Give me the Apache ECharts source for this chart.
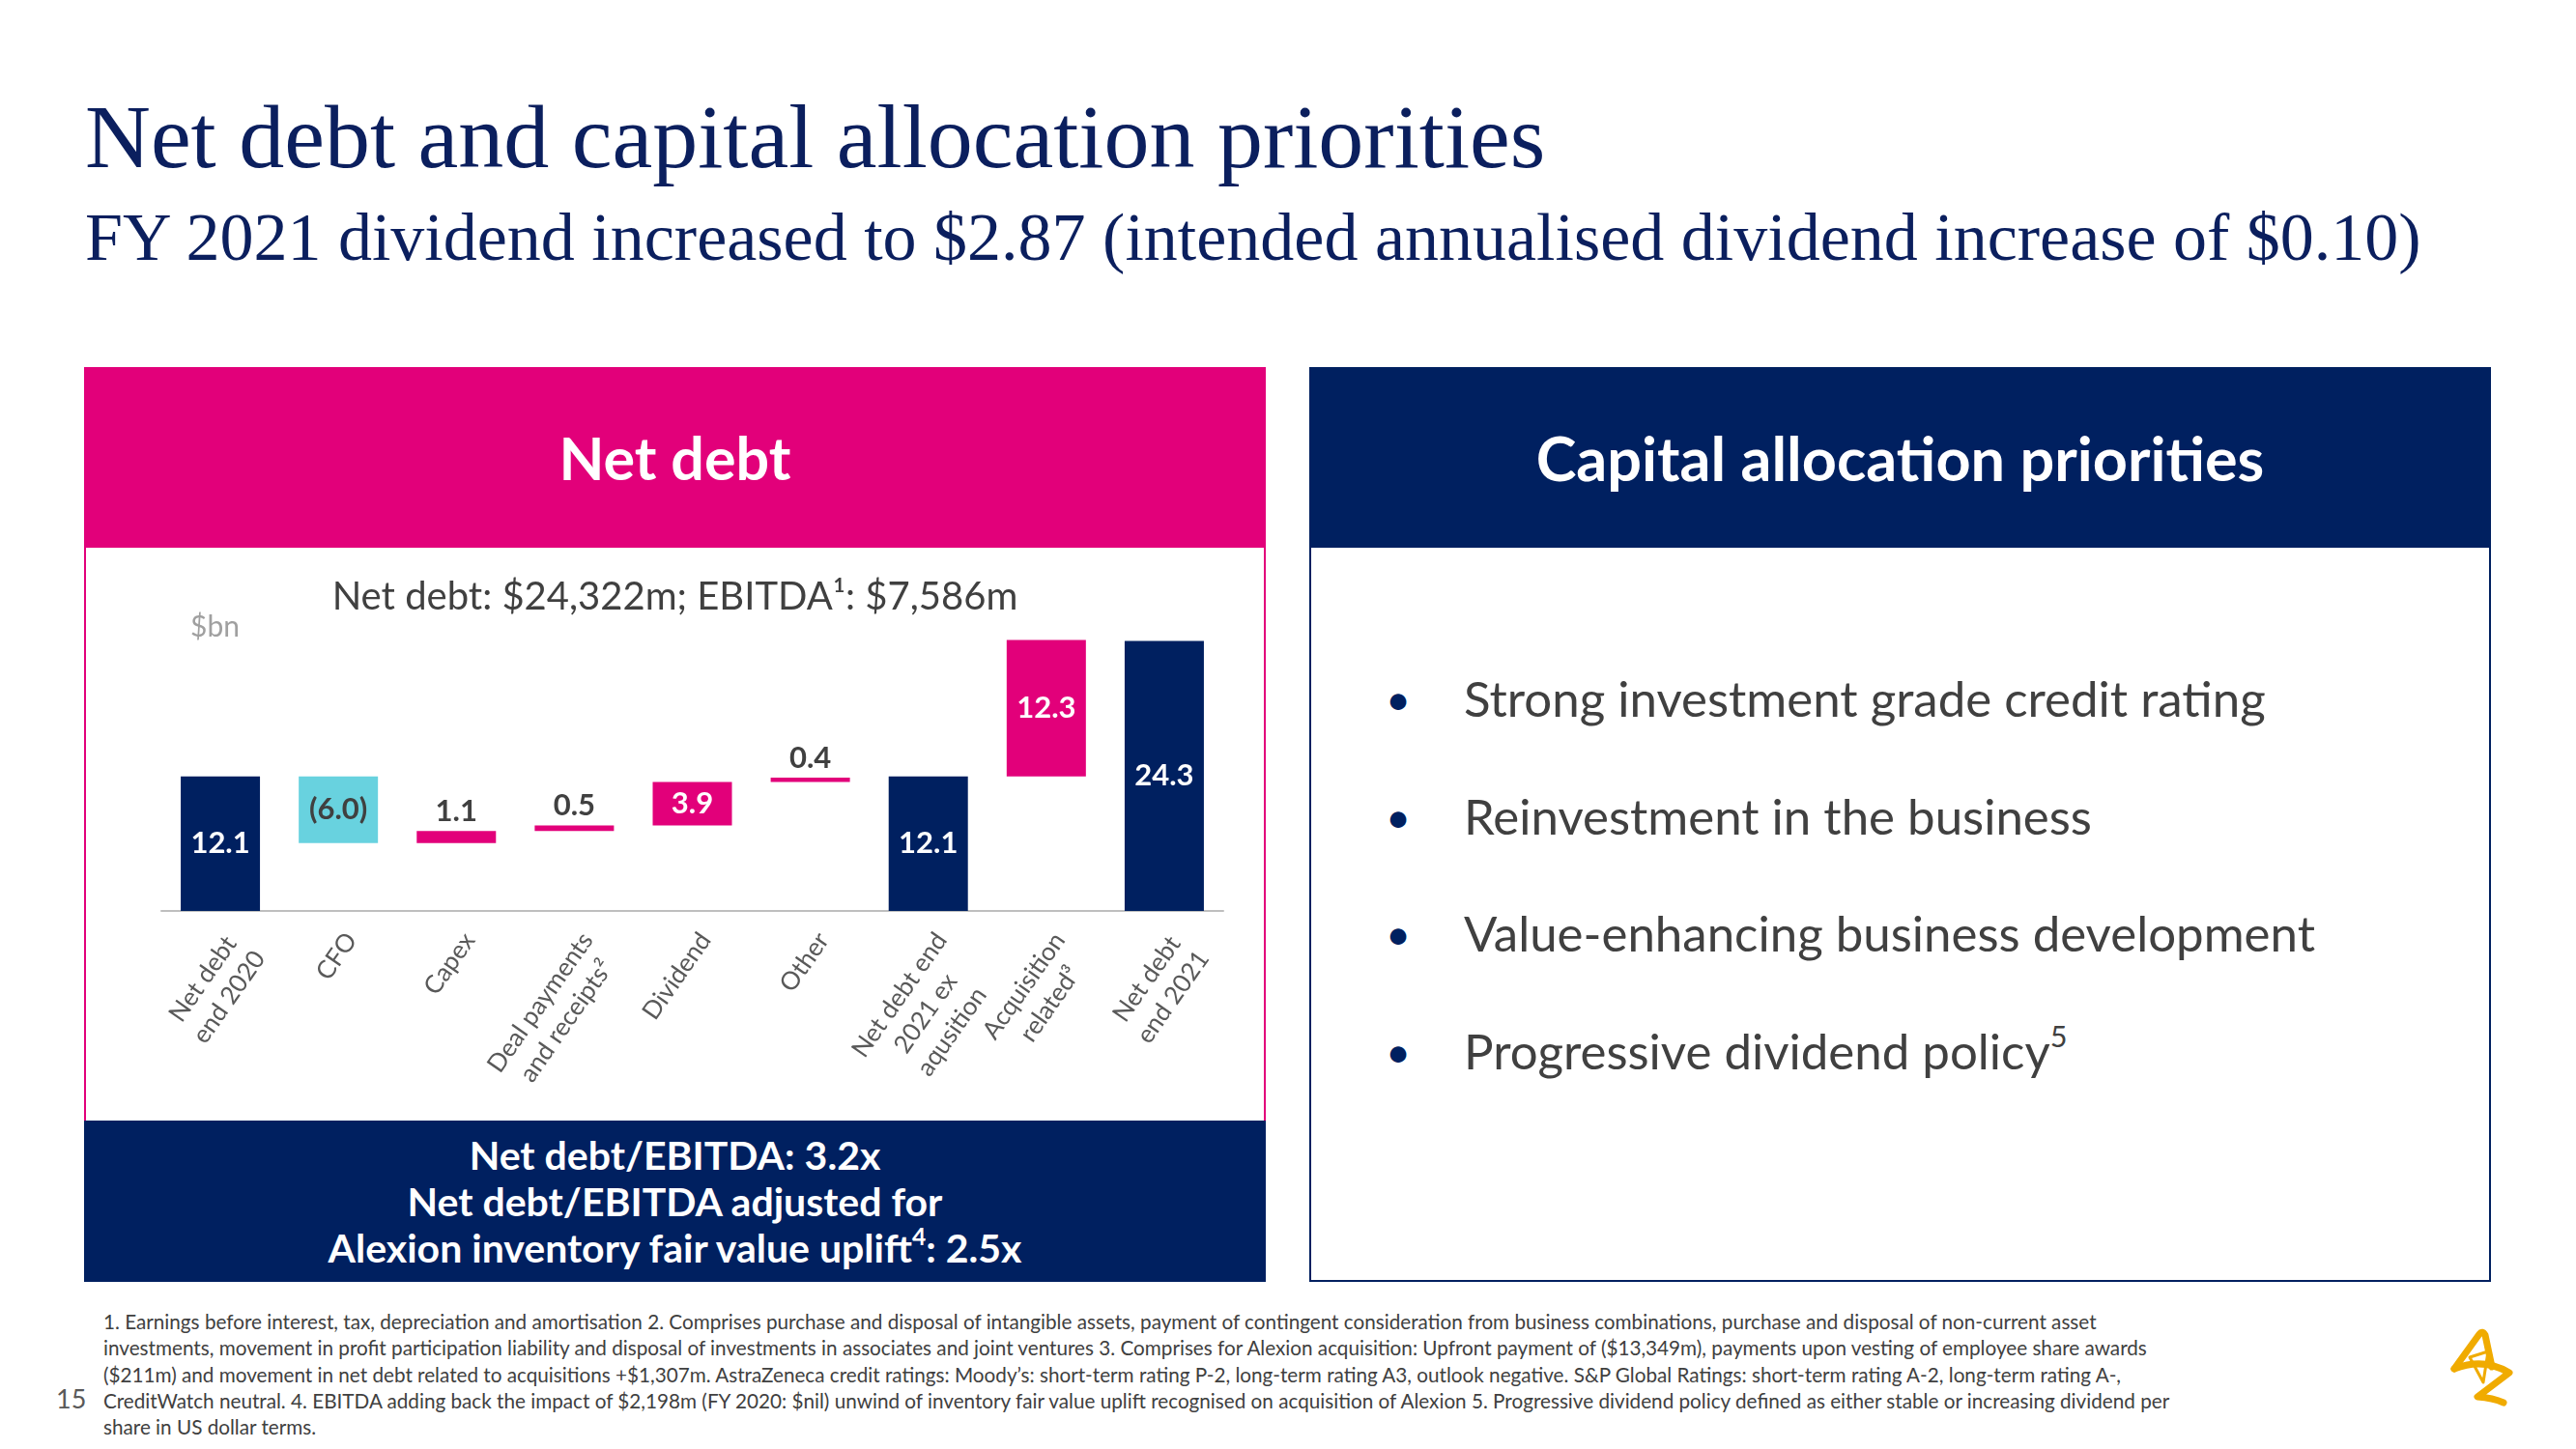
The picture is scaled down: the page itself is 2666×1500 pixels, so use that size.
<!DOCTYPE html>
<html>
<head>
<meta charset="utf-8">
<script src="https://cdn.jsdelivr.net/npm/echarts@6/dist/echarts.min.js"></script>
<style>
  html, body { margin:0; padding:0; background:#ffffff; }
  body { width:2666px; height:1500px; position:relative; overflow:hidden; font-family: Lato, "Noto Sans", sans-serif; }
  .abs { position:absolute; }
  #title { left:88px; top:94px; font-family:"Liberation Serif", "DejaVu Serif", serif; font-size:94px; line-height:94px; color:#0b1f5e; white-space:nowrap; }
  #subtitle { left:88px; top:211px; font-family:"Liberation Serif", "DejaVu Serif", serif; font-size:70px; line-height:70px; color:#0b1f5e; white-space:nowrap; }
  .head { display:flex; align-items:center; justify-content:center; color:#fff; font-weight:700; }
  #leftHead { left:87px; top:380px; width:1223px; height:187px; background:#E2007A; font-size:61px; }
  #leftBody { left:87px; top:567px; width:1223px; height:593px; box-sizing:border-box; border-left:2px solid #E2007A; border-right:2px solid #E2007A; }
  #chart { left:87px; top:567px; width:1223px; height:593px; }
  #leftFoot { left:87px; top:1160px; width:1223px; height:167px; background:#002060; color:#fff; font-weight:700; font-size:41px; line-height:48px; text-align:center; display:flex; align-items:center; justify-content:center; }
  #rightHead { left:1355px; top:380px; width:1223px; height:187px; background:#002060; font-size:63px; }
  #rightBody { left:1355px; top:567px; width:1223px; height:760px; box-sizing:border-box; border:2px solid #002060; border-top:none; }
  .bullet { left:1430px; height:60px; line-height:60px; font-size:51px; color:#404040; white-space:nowrap; }
  .bullet .dot { position:absolute; left:0; top:0; width:34px; text-align:center; color:#002060; font-size:45px; }
  .bullet .txt { position:absolute; left:85px; top:0; }
  sup { font-size:0.6em; line-height:0; vertical-align:0.75em; }
  #foot { left:107px; top:1355px; font-size:20.7px; line-height:27.3px; color:#404040; white-space:nowrap; }
  #pnum { left:58px; top:1433px; font-size:27px; line-height:30px; color:#595959; }
  #logo { left:2534px; top:1375px; }
</style>
</head>
<body>
<div id="title" class="abs">Net debt and capital allocation priorities</div>
<div id="subtitle" class="abs">FY 2021 dividend increased to $2.87 (intended annualised dividend increase of $0.10)</div>

<div id="leftHead" class="abs head">Net debt</div>
<div id="leftBody" class="abs"></div>
<div id="chart" class="abs"></div>
<div id="leftFoot" class="abs"><div>Net debt/EBITDA: 3.2x<br>Net debt/EBITDA adjusted for<br>Alexion inventory fair value uplift<sup>4</sup>: 2.5x</div></div>

<div id="rightHead" class="abs head">Capital allocation priorities</div>
<div id="rightBody" class="abs"></div>
<div class="abs bullet" style="top:693px"><span class="dot">•</span><span class="txt">Strong investment grade credit rating</span></div>
<div class="abs bullet" style="top:815px"><span class="dot">•</span><span class="txt">Reinvestment in the business</span></div>
<div class="abs bullet" style="top:936px"><span class="dot">•</span><span class="txt">Value-enhancing business development</span></div>
<div class="abs bullet" style="top:1058px"><span class="dot">•</span><span class="txt">Progressive dividend policy<sup>5</sup></span></div>

<div id="foot" class="abs">1. Earnings before interest, tax, depreciation and amortisation 2. Comprises purchase and disposal of intangible assets, payment of contingent consideration from business combinations, purchase and disposal of non-current asset<br>investments, movement in profit participation liability and disposal of investments in associates and joint ventures 3. Comprises for Alexion acquisition: Upfront payment of ($13,349m), payments upon vesting of employee share awards<br>($211m) and movement in net debt related to acquisitions +$1,307m. AstraZeneca credit ratings: Moody’s: short-term rating P-2, long-term rating A3, outlook negative. S&amp;P Global Ratings: short-term rating A-2, long-term rating A-,<br>CreditWatch neutral. 4. EBITDA adding back the impact of $2,198m (FY 2020: $nil) unwind of inventory fair value uplift recognised on acquisition of Alexion 5. Progressive dividend policy defined as either stable or increasing dividend per<br>share in US dollar terms.</div>
<div id="pnum" class="abs">15</div>

<svg id="logo" class="abs" width="72" height="88" viewBox="0 0 72 88">
  <g fill="none" stroke="#F0AB00" stroke-linecap="round" stroke-linejoin="round">
    <path d="M6 42 L32 6 Q35 2 38 7 L45 40" stroke-width="7"/>
    <path d="M6 42 Q36 30 63 46 L30 71 Q46 72 57 77" stroke-width="7"/>
    <path d="M22 30 L41 24 L36 56 Z" stroke-width="3"/>
  </g>
</svg>

<script>
// ---- data ----
const categories = ['Net debt\nend 2020', 'CFO', 'Capex', 'Deal payments\nand receipts²', 'Dividend', 'Other', 'Net debt end\n2021 ex\naqusition', 'Acquisition\nrelated³', 'Net debt\nend 2021'];
const changes = [12.1, -6.0, 1.1, 0.5, 3.9, 0.4, 12.1, 12.3, 24.3];
const kinds = ['total', 'change', 'change', 'change', 'change', 'change', 'total', 'change', 'total'];
const valueLabels = ['12.1', '(6.0)', '1.1', '0.5', '3.9', '0.4', '12.1', '12.3', '24.3'];
const chartTitle = 'Net debt: $24,322m; EBITDA¹: $7,586m';
const unitLabel = '$bn';

// ---- styles ----
const NAVY = '#002060', PINK = '#E2007A', CYAN = '#68D2DF', GREY = '#404040';
const FONT = 'Lato, "Noto Sans", sans-serif';

// build waterfall bases/heights from the values
const bases = [], heights = [];
let running = 0;
changes.forEach((v, i) => {
  if (kinds[i] === 'total') { bases.push(0); heights.push(v); running = v; }
  else if (v < 0) { bases.push(running + v); heights.push(-v); running += v; }
  else { bases.push(running); heights.push(v); running += v; }
});

const visData = heights.map((h, i) => {
  const isTotal = kinds[i] === 'total';
  const color = isTotal ? NAVY : (changes[i] < 0 ? CYAN : PINK);
  const inside = h >= 2;
  const lblColor = inside ? (color === CYAN ? GREY : '#ffffff') : GREY;
  return {
    value: h,
    itemStyle: { color: color },
    label: { position: inside ? 'inside' : 'top', color: lblColor, distance: 5 }
  };
});

const chart = echarts.init(document.getElementById('chart'), null, { renderer: 'canvas' });
chart.setOption({
  animation: false,
  title: {
    text: chartTitle, left: 'center', top: 24,
    textStyle: { fontFamily: FONT, fontSize: 40, fontWeight: 'normal', color: GREY, lineHeight: 44 }
  },
  graphic: [{
    type: 'text', left: 110, top: 67,
    style: { text: unitLabel, fontFamily: FONT, fontSize: 30, fill: '#a0a0a0' }
  }],
  grid: { left: 80, right: 44, top: 31, bottom: 217, containLabel: false },
  xAxis: {
    type: 'category', data: categories,
    axisTick: { show: false },
    axisLine: { lineStyle: { color: '#bfbfbf', width: 2 } },
    axisLabel: {
      interval: 0, rotate: 55, margin: 16, align: 'right', verticalAlign: 'top',
      color: '#595959', fontFamily: FONT, fontSize: 26, lineHeight: 33,
      formatter: v => v.split('\n').map(l => '{c|' + l + '}').join('\n'),
      rich: { c: { align: 'center', color: '#595959', fontFamily: FONT, fontSize: 26, lineHeight: 33 } }
    }
  },
  yAxis: { type: 'value', min: 0, max: 30, show: false, splitLine: { show: false } },
  series: [
    { type: 'bar', stack: 'w', data: bases, itemStyle: { color: 'transparent' }, barWidth: 82, silent: true },
    {
      type: 'bar', stack: 'w', data: visData, barWidth: 82,
      label: {
        show: true, fontFamily: FONT, fontSize: 31, fontWeight: 'bold',
        formatter: p => valueLabels[p.dataIndex]
      }
    }
  ]
});
</script>
</body>
</html>
